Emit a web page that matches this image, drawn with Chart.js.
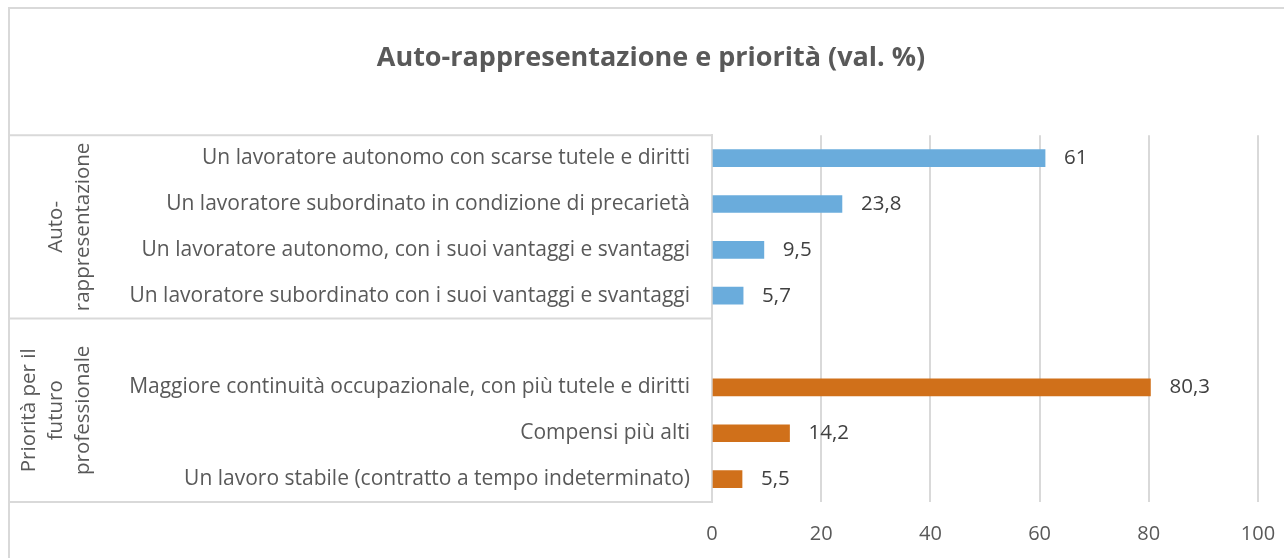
<!DOCTYPE html>
<html>
<head>
<meta charset="utf-8">
<script src="https://cdn.jsdelivr.net/npm/chart.js@4.4.1/dist/chart.umd.min.js"></script>
<style>
  html, body { margin: 0; padding: 0; background: #fff; }
  #wrap { width: 1284px; height: 558px; position: relative; }
</style>
</head>
<body>
<div id="wrap"><canvas id="chart"></canvas></div>
<script>
const categories = [
  "Un lavoratore autonomo con scarse tutele e diritti",
  "Un lavoratore subordinato in condizione di precarietà",
  "Un lavoratore autonomo, con i suoi vantaggi e svantaggi",
  "Un lavoratore subordinato con i suoi vantaggi e svantaggi",
  "",
  "Maggiore continuità occupazionale, con più tutele e diritti",
  "Compensi più alti",
  "Un lavoro stabile (contratto a tempo indeterminato)"
];
const values = [61, 23.8, 9.5, 5.7, null, 80.3, 14.2, 5.5];
const groupNames = [["Auto-", "rappresentazione"], ["Priorità per il", "futuro", "professionale"]];
const groupRanges = [[0, 3], [4, 7]]; // index span of each group
const xTicks = [0, 20, 40, 60, 80, 100];

const BLUE = "#6aacdc";
const ORANGE = "#d0701a";
const GRID = "#d9d9d9";
const TEXT = "#595959";
const FONT = "'Open Sans', 'Liberation Sans', sans-serif";

// box around the category labels, group labels and outer border
const categoryBox = {
  id: "categoryBox",
  afterDraw(chart) {
    const { ctx, chartArea, scales } = chart;
    const y = scales.y;
    const half = (y.getPixelForValue(1) - y.getPixelForValue(0)) / 2;
    ctx.save();
    ctx.strokeStyle = GRID;
    ctx.lineWidth = 2;

    // outer border
    ctx.beginPath();
    ctx.moveTo(9, 600);
    ctx.lineTo(9, 8);
    ctx.lineTo(1300, 8);
    ctx.stroke();

    // horizontal lines of the category table
    const lines = [chartArea.top, y.getPixelForValue(groupRanges[0][1]) + half, chartArea.bottom];
    lines.forEach((ly) => {
      ctx.beginPath();
      ctx.moveTo(9, ly);
      ctx.lineTo(chartArea.left, ly);
      ctx.stroke();
    });

    // rotated group labels
    ctx.fillStyle = TEXT;
    ctx.font = "20.5px " + FONT;
    ctx.textAlign = "center";
    ctx.textBaseline = "middle";
    groupRanges.forEach((r, i) => {
      const top = y.getPixelForValue(r[0]) - half;
      const bottom = y.getPixelForValue(r[1]) + half;
      const cy = (top + bottom) / 2;
      const lines = groupNames[i];
      const lh = 27;
      ctx.save();
      ctx.translate(i === 0 ? 70 : 56, cy);
      ctx.rotate(-Math.PI / 2);
      lines.forEach((t, k) => {
        ctx.fillText(t, 0, (k - (lines.length - 1) / 2) * lh);
      });
      ctx.restore();
    });
    ctx.restore();
  }
};

// value labels at the bar ends
const valueLabels = {
  id: "valueLabels",
  afterDatasetsDraw(chart) {
    const { ctx } = chart;
    const meta = chart.getDatasetMeta(0);
    ctx.save();
    ctx.fillStyle = "#404040";
    ctx.font = "20.5px " + FONT;
    ctx.textAlign = "left";
    ctx.textBaseline = "middle";
    meta.data.forEach((bar, i) => {
      if (values[i] == null) return;
      ctx.fillText(String(values[i]).replace(".", ","), bar.x + 19, bar.y);
    });
    ctx.restore();
  }
};

new Chart(document.getElementById("chart"), {
  type: "bar",
  data: {
    labels: categories,
    datasets: [{
      data: values,
      backgroundColor: values.map((v, i) => (i < 4 ? BLUE : ORANGE)),
      barThickness: 17
    }]
  },
  options: {
    indexAxis: "y",
    responsive: true,
    maintainAspectRatio: false,
    animation: false,
    // left padding only re-centres the title; the y axis width keeps the plot at x=712
    layout: { padding: { left: 44, right: 26, top: 0, bottom: 0 } },
    plugins: {
      legend: { display: false },
      tooltip: { enabled: false },
      title: {
        display: true,
        text: "Auto-rappresentazione e priorità (val. %)",
        color: TEXT,
        font: { family: FONT, size: 27, weight: "bold" },
        padding: { top: 42, bottom: 60.8 }
      }
    },
    scales: {
      x: {
        min: 0,
        max: 100,
        afterBuildTicks: (s) => { s.ticks = xTicks.map((v) => ({ value: v })); },
        afterFit: (s) => { s.height = 56; },
        // invisible tick marks push the labels down without widening the right padding
        grid: { color: GRID, lineWidth: 2, drawTicks: true, tickLength: 18, tickColor: "rgba(0,0,0,0)" },
        border: { display: false },
        ticks: { color: TEXT, padding: 2, font: { family: FONT, size: 20 } }
      },
      y: {
        afterFit: (s) => { s.width = 668; },
        grid: { display: false, drawTicks: false },
        border: { display: true, color: GRID, width: 2 },
        ticks: { color: TEXT, padding: 22, autoSkip: false, font: { family: FONT, size: 21 } }
      }
    }
  },
  plugins: [categoryBox, valueLabels]
});
</script>
</body>
</html>
